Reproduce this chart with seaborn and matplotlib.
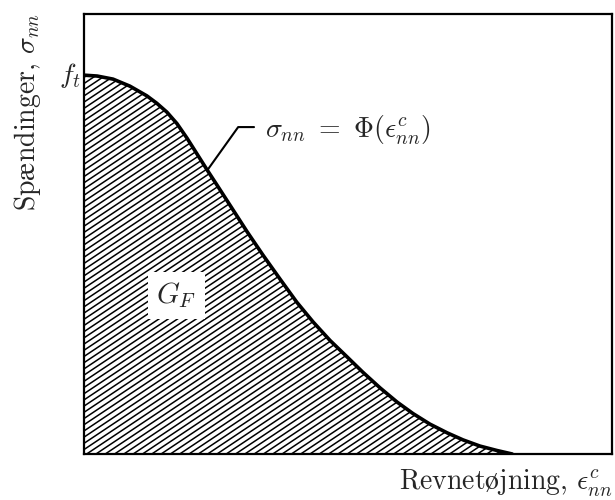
import numpy as np
import pandas as pd
import matplotlib
matplotlib.use("Agg")
import matplotlib.pyplot as plt
import seaborn as sns
from matplotlib.mathtext import MathTextParser
from matplotlib.patches import Polygon
from matplotlib.collections import LineCollection

# softening curve (normalised to the box)
strain = [0.0, 0.025, 0.055, 0.087, 0.119, 0.138, 0.157, 0.176, 0.195, 0.214,
          0.233, 0.252, 0.280, 0.309, 0.339, 0.371, 0.403, 0.434, 0.466, 0.498,
          0.528, 0.561, 0.593, 0.623, 0.655, 0.688, 0.718, 0.750, 0.782, 0.811]
stress = [0.861, 0.859, 0.852, 0.836, 0.814, 0.797, 0.777, 0.751, 0.718, 0.682,
          0.646, 0.611, 0.559, 0.505, 0.452, 0.398, 0.345, 0.300, 0.258, 0.221,
          0.186, 0.150, 0.118, 0.092, 0.068, 0.048, 0.032, 0.018, 0.008, 0.0]

df = pd.DataFrame({"strain": strain, "stress": stress})

sns.set_style("white")
plt.rcParams["mathtext.fontset"] = "cm"
plt.rcParams["axes.unicode_minus"] = False

# cmr10 has no proper æ/ø, so take them from the math fallback if it works
try:
    MathTextParser("path").parse(r"$\mathrm{\ae}\mathrm{\o}$")
    plt.rcParams["font.family"] = ["cmr10", "DejaVu Serif"]
    ae, oe = r"$\mathrm{\ae}$", r"$\mathrm{\o}$"
except Exception:
    plt.rcParams["font.family"] = ["Liberation Serif", "DejaVu Serif"]
    ae, oe = "æ", "ø"

ylabel = "Sp" + ae + r"ndinger, $\sigma_{nn}$"
xlabel = "Revnet" + oe + r"jning, $\epsilon^{c}_{nn}$"
curve_label = r"$\sigma_{nn}\ =\ \Phi(\epsilon^{c}_{nn})$"
area_label = r"$G_F$"
peak_label = r"$f_t$"

fig = plt.figure(figsize=(6.15, 5.0), dpi=100)
ax = fig.add_axes([84 / 615, 46 / 500, 528 / 615, 440 / 500])

# hatched area under the curve
pts = np.column_stack([df["strain"], df["stress"]])
pts = np.vstack([pts, [[0.0, 0.0]]])
area = Polygon(pts, closed=True, facecolor="none", edgecolor="none")
ax.add_patch(area)

slope = 0.80
offsets = np.arange(-0.85, 1.0, 0.0141)
segs = [[(0, c), (1, c + slope)] for c in offsets]
lc = LineCollection(segs, colors="black", linewidths=1.1, zorder=2)
ax.add_collection(lc)
lc.set_clip_path(area)

sns.lineplot(data=df, x="strain", y="stress", color="black", linewidth=2.6,
             ax=ax, zorder=4, sort=False)

ax.set_xlim(0, 1)
ax.set_ylim(0, 1)
ax.set_xticks([])
ax.set_yticks([])
ax.set_xlabel("")
ax.set_ylabel("")
for s in ax.spines.values():
    s.set_color("black")
    s.set_linewidth(1.6)
    s.set_visible(True)

# G_F label on a white patch
ax.text(0.175, 0.361, area_label, fontsize=21, ha="center", va="center", zorder=3,
        bbox=dict(facecolor="white", edgecolor="none", pad=6))

# leader line and curve label
x0 = 0.235
y0 = np.interp(x0, strain, stress)
ax.plot([x0, 0.292, 0.322], [y0 + 0.005, 0.743, 0.743], color="black", linewidth=1.5,
        zorder=4)
ax.text(0.343, 0.736, curve_label, fontsize=20, ha="left", va="center")

ax.text(-0.005, stress[0], peak_label, fontsize=20, ha="right", va="center")

fig.text(0.044, 1 - 13 / 500, ylabel, rotation=90, fontsize=20, ha="center", va="top")
fig.text(0.997, 0.02, xlabel, fontsize=20, ha="right", va="baseline")

fig.savefig("out.png", dpi=100)
